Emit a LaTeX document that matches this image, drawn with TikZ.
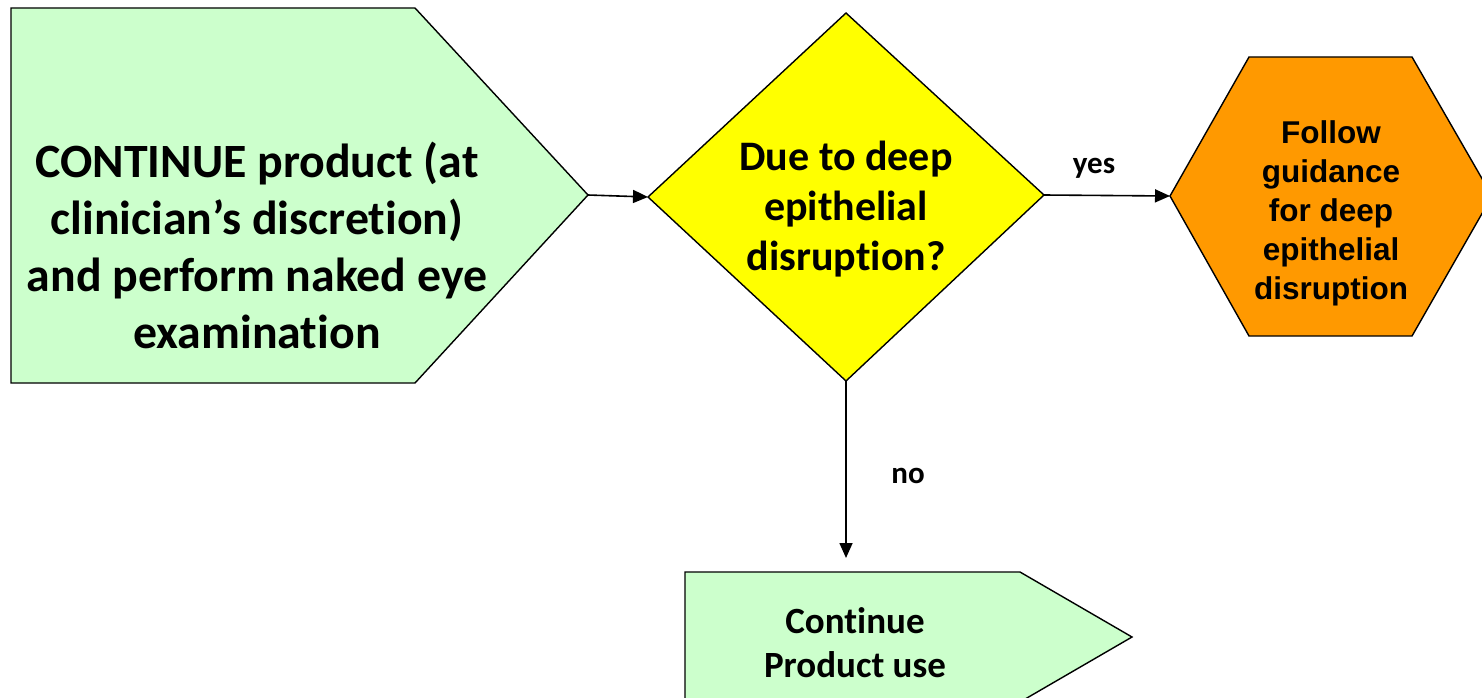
\documentclass[tikz,border=0pt]{standalone}
\usepackage{fontspec}
\setmainfont[Ligatures=NoCommon]{Carlito}
\newfontfamily\arialfont{Liberation Sans}
\usetikzlibrary{arrows.meta}
\definecolor{palegreen}{HTML}{CCFFCC}
\definecolor{brightyellow}{HTML}{FFFF00}
\definecolor{deeporange}{HTML}{FF9900}
\begin{document}
\begin{tikzpicture}[x=1pt,y=-1pt,
  shapeline/.style={draw=black, line width=1.4pt, line join=miter},
  flowarrow/.style={draw=black, line width=1.6pt, -{Triangle[length=15pt,width=13pt]}},
  boxtext/.style={align=center, inner sep=0pt, font=\fontsize{47.8}{57}\selectfont\bfseries},
  asktext/.style={align=center, inner sep=0pt, font=\fontsize{42}{50}\selectfont\bfseries},
  hextext/.style={align=center, inner sep=0pt, font=\arialfont\fontsize{31.5}{39}\selectfont\bfseries},
  endtext/.style={align=center, inner sep=0pt, font=\fontsize{37}{44}\selectfont\bfseries},
  branchlabel/.style={inner sep=0pt, font=\fontsize{31}{36}\selectfont\bfseries}
]
\useasboundingbox (0,0) rectangle (1482,698);

% start step: pentagon pointing right
\coordinate (starttip) at (588,195);
\filldraw[shapeline, fill=palegreen]
  (11,8) -- (415,8) -- (starttip) -- (415,383) -- (11,383) -- cycle;
\node[boxtext] (starttext) at (257,245)
  {CONTINUE product (at\\clinician’s discretion)\\and perform naked eye\\examination};

% decision diamond
\coordinate (askleft) at (648,197);
\coordinate (asktop) at (846,13);
\coordinate (askright) at (1044,195);
\coordinate (askbottom) at (846,381);
\filldraw[shapeline, fill=brightyellow]
  (askleft) -- (asktop) -- (askright) -- (askbottom) -- cycle;
\node[asktext] (asktextnode) at (846,209) {Due to deep\\epithelial\\disruption?};

% "yes" outcome: hexagon
\coordinate (hexleft) at (1170,196);
\filldraw[shapeline, fill=deeporange]
  (hexleft) -- (1249,57) -- (1412,57) -- (1492,196) -- (1412,336) -- (1249,336) -- cycle;
\node[hextext] (hextextnode) at (1331,213)
  {Follow\\guidance\\for deep\\epithelial\\disruption};

% "no" outcome: pentagon pointing right
\coordinate (endtop) at (846,558);
\filldraw[shapeline, fill=palegreen]
  (685,760) -- (685,572) -- (1020,572) -- (1132,637) -- (1020,702) -- (1020,760) -- cycle;
\node[endtext] (endtextnode) at (855,643) {Continue\\Product use};

% connectors
\draw[flowarrow] (starttip) -- (askleft);
\draw[flowarrow] (askright) -- (hexleft);
\draw[flowarrow] (askbottom) -- (endtop);

% branch labels
\node[branchlabel] (yeslabel) at (1094,168) {yes};
\node[branchlabel] (nolabel) at (908,476) {no};
\end{tikzpicture}
\end{document}
